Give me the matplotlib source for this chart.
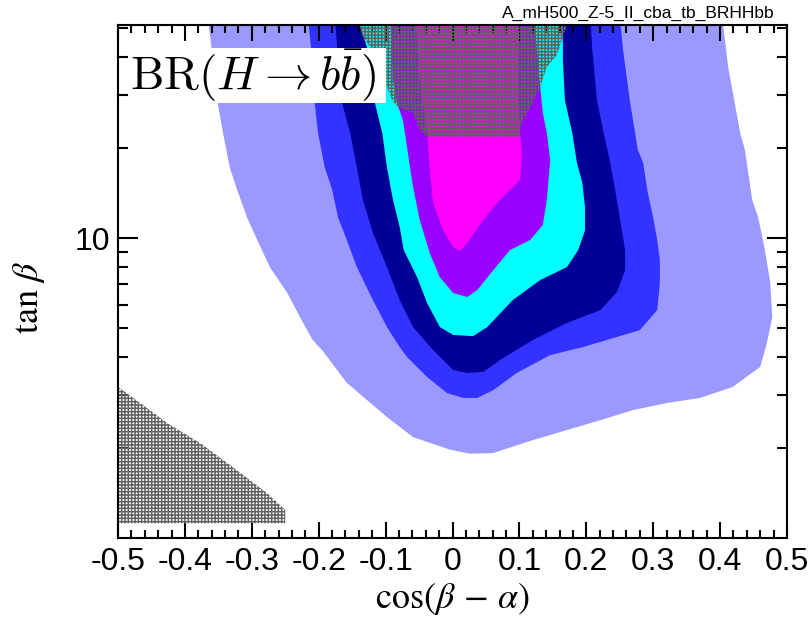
import matplotlib.pyplot as plt
from matplotlib.patches import Rectangle
from matplotlib.ticker import FixedLocator, MultipleLocator, NullFormatter

plt.rcParams['font.family'] = ['Liberation Sans', 'DejaVu Sans']
plt.rcParams['mathtext.fontset'] = 'stix'
plt.rcParams['hatch.linewidth'] = 1.05
plt.rcParams['axes.unicode_minus'] = False

# BR(H -> bb) contour bands in the (cos(beta-alpha), tan(beta)) plane,
# outermost first; each band is a closed boundary
band_colors = ['#9999ff', '#3333ff', '#000099', '#00ffff', '#9900ff', '#ff00ff']

band1_cba = [-0.366, -0.358, -0.351, -0.343, -0.333, -0.322, -0.307, -0.292, -0.273,
             -0.247, -0.228, -0.209, -0.195, -0.158, -0.098, -0.059, -0.004, 0.026,
             0.061, 0.120, 0.171, 0.221, 0.270, 0.321, 0.370, 0.419, 0.460, 0.470,
             0.478, 0.475, 0.467, 0.457, 0.448, 0.437, 0.430, 0.412, 0.403]
band1_tb = [55, 39.2, 28.2, 22.4, 17.2, 14.5, 11.7, 9.85, 8.0,
            6.56, 5.45, 4.57, 4.23, 3.29, 2.53, 2.17, 1.97, 1.91,
            1.92, 2.12, 2.29, 2.47, 2.67, 2.82, 2.93, 3.19, 3.72, 4.47,
            5.45, 7.08, 9.12, 11.7, 13.4, 19.7, 22.4, 37.2, 55]

band2_cba = [-0.216, -0.210, -0.206, -0.201, -0.191, -0.180, -0.171, -0.158, -0.143,
             -0.119, -0.098, -0.079, -0.068, -0.038, -0.008, 0.016, 0.037, 0.061,
             0.096, 0.146, 0.195, 0.246, 0.280, 0.306, 0.310, 0.310, 0.306, 0.300,
             0.292, 0.285, 0.277, 0.265, 0.255, 0.250]
band2_tb = [55, 39.2, 28.2, 22.4, 17.2, 14.5, 11.7, 9.85, 8.0,
            6.21, 5.05, 4.33, 4.01, 3.44, 3.04, 2.93, 2.93, 3.11,
            3.55, 4.07, 4.33, 4.68, 4.93, 5.75, 7.08, 8.45, 9.85, 11.7,
            14.1, 17.8, 19.7, 28.8, 42.3, 55]

band3_cba = [-0.176, -0.171, -0.165, -0.153, -0.143, -0.134, -0.119, -0.098, -0.079,
             -0.059, -0.029, 0.001, 0.022, 0.046, 0.071, 0.120, 0.171, 0.221,
             0.246, 0.258, 0.258, 0.250, 0.243, 0.235, 0.225, 0.216, 0.209, 0.206]
band3_tb = [55, 39.2, 28.2, 22.4, 17.2, 13.4, 10.4, 8.0, 6.21,
            5.05, 4.23, 3.63, 3.55, 3.58, 3.92, 4.57, 5.21, 5.75,
            6.61, 7.82, 9.12, 11.7, 14.5, 18.2, 22.9, 28.8, 42.3, 55]

band4_cba = [-0.143, -0.128, -0.116, -0.105, -0.098, -0.089, -0.079, -0.073, -0.053,
             -0.038, -0.019, 0.001, 0.031, 0.052, 0.090, 0.131, 0.171, 0.188,
             0.198, 0.198, 0.194, 0.186, 0.179, 0.168, 0.165, 0.165]
band4_tb = [55, 43.3, 28.2, 22.4, 17.2, 13.4, 10.9, 9.12, 7.41,
            6.07, 5.05, 4.75, 4.71, 5.05, 6.21, 7.24, 8.0, 9.12,
            10.6, 12.7, 15.3, 17.8, 22.4, 28.8, 39.2, 55]

band5_cba = [-0.093, -0.089, -0.083, -0.074, -0.059, -0.049, -0.034, -0.019, 0.001,
             0.022, 0.037, 0.061, 0.086, 0.116, 0.135, 0.141, 0.146, 0.141,
             0.135, 0.131, 0.126, 0.123]
band5_tb = [55, 33.6, 28.2, 24.7, 14.8, 11.5, 8.91, 7.41, 6.56,
            6.36, 6.71, 7.82, 9.12, 9.85, 11.05, 13.4, 18.2, 22.4,
            26.1, 31.9, 42.3, 55]

band6_cba = [-0.056, -0.049, -0.038, -0.034, -0.029, -0.014, 0.001, 0.011, 0.022,
             0.046, 0.071, 0.101, 0.104, 0.101, 0.098, 0.101]
band6_tb = [55, 33.6, 22.4, 16.9, 13.1, 10.6, 9.33, 9.05, 9.62,
            11.5, 13.4, 15.6, 19.2, 22.4, 37.2, 55]

# excluded regions (hatched)
excl_top_cba = [-0.143, -0.134, -0.123, -0.108, -0.098, -0.090, -0.081, -0.059, -0.049,
                -0.038, 0.101, 0.101, 0.105, 0.120, 0.131, 0.141, 0.156, 0.165, 0.176]
excl_top_tb = [55, 46.8, 43.3, 38.3, 31.9, 28.8, 27.3, 26.1, 22.9,
               21.7, 21.7, 22.9, 24.7, 28.2, 31.9, 37.2, 40.7, 46.8, 55]

excl_low_cba = [-0.5, -0.467, -0.427, -0.377, -0.328, -0.277, -0.250, -0.250, -0.5]
excl_low_tb = [3.19, 2.82, 2.42, 2.07, 1.72, 1.41, 1.24, 1.12, 1.12]

xtick_vals = [-0.5, -0.4, -0.3, -0.2, -0.1, 0.0, 0.1, 0.2, 0.3, 0.4, 0.5]
xtick_labels = ['-0.5', '-0.4', '-0.3', '-0.2', '-0.1', '0', '0.1', '0.2', '0.3', '0.4', '0.5']
ytick_major = [10]
ytick_minor = [2, 3, 4, 5, 6, 7, 8, 9, 20, 30, 40, 50]

fig = plt.figure(figsize=(8.1, 6.17), dpi=100)
ax = fig.add_axes([118 / 810, 1 - 538 / 617, 669 / 810, 513 / 617])
ax.set_yscale('log')

bands = [(band1_cba, band1_tb), (band2_cba, band2_tb), (band3_cba, band3_tb),
         (band4_cba, band4_tb), (band5_cba, band5_tb), (band6_cba, band6_tb)]
for (xs, ys), col in zip(bands, band_colors):
    ax.fill(xs, ys, color=col, lw=0, zorder=1)

for xs, ys in [(excl_top_cba, excl_top_tb), (excl_low_cba, excl_low_tb)]:
    ax.fill(xs, ys, facecolor='none', edgecolor='#606060', hatch='+++++', lw=0, zorder=2)

ax.set_xlim(-0.5, 0.5)
ax.set_ylim(1, 51.3)

ax.set_xticks(xtick_vals, xtick_labels)
ax.xaxis.set_minor_locator(MultipleLocator(0.02))
ax.yaxis.set_major_locator(FixedLocator(ytick_major))
ax.set_yticklabels(['10'])
ax.yaxis.set_minor_locator(FixedLocator(ytick_minor))
ax.yaxis.set_minor_formatter(NullFormatter())

ax.tick_params(which='both', direction='in', top=True, right=True, width=1.5)
ax.tick_params(axis='x', which='major', length=11.2, labelsize=23, pad=6.5)
ax.tick_params(axis='x', which='minor', length=5.6)
ax.tick_params(axis='y', which='major', length=14.4, labelsize=23, pad=6)
ax.tick_params(axis='y', which='minor', length=7.2)
for sp in ax.spines.values():
    sp.set_linewidth(1.5)
    sp.set_zorder(4)

ax.set_xlabel(r'$\cos(\beta\,-\,\alpha)$', fontsize=26)
ax.xaxis.set_label_coords(0.5, -0.083)
ax.set_ylabel(r'$\tan\,\beta$', fontsize=26)
ax.yaxis.set_label_coords(-0.106, 0.47)

# white label box in the upper left corner
ax.add_patch(Rectangle((128 / 810, 1 - 103 / 617), 258 / 810, 55 / 617,
                       transform=fig.transFigure, facecolor='white', edgecolor='none',
                       zorder=5, clip_on=False))
fig.text(130 / 810, 1 - 90 / 617, r'$\mathrm{BR}(H\rightarrow b\bar{b})$',
         fontsize=34, math_fontfamily='cm', ha='left', va='baseline', zorder=6)

fig.text(775 / 810, 1 - 18 / 617, 'A_mH500_Z-5_II_cba_tb_BRHHbb', fontsize=12.5,
         ha='right', va='baseline')

fig.savefig('out.png', dpi=100)
